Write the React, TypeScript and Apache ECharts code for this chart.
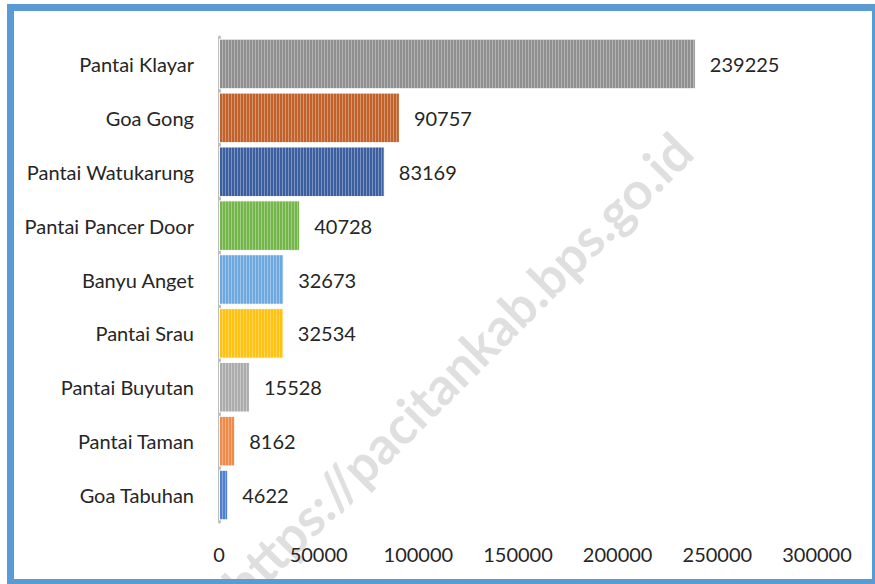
import React, { useEffect, useRef } from "react";
import * as echarts from "echarts";

const categories = [
  "Pantai Klayar",
  "Goa Gong",
  "Pantai Watukarung",
  "Pantai Pancer Door",
  "Banyu Anget",
  "Pantai Srau",
  "Pantai Buyutan",
  "Pantai Taman",
  "Goa Tabuhan",
];
const values = [239225, 90757, 83169, 40728, 32673, 32534, 15528, 8162, 4622];
const barColors = ["#8f8f8f", "#c0622a", "#3b5f9f", "#74b64a", "#6fa8de", "#ffc20e", "#acacac", "#ef8a48", "#4f7fd0"];
const xTicks = [0, 300000, 50000];
const watermark = "https://pacitankab.bps.go.id";

const FONT = "Lato, 'Noto Sans', sans-serif";

export default function App() {
  const ref = useRef<HTMLDivElement>(null);
  useEffect(() => {
    if (!ref.current) return;
    const chart = echarts.init(ref.current, undefined, { renderer: "svg" });
    const data = values.map((v, i) => ({
      value: v,
      itemStyle: {
        color: barColors[i],
        borderColor: "rgba(255,255,255,0.7)",
        borderWidth: 1,
        decal: {
          symbol: "rect",
          symbolSize: 1,
          dashArrayX: [1, 2],
          dashArrayY: [10, 0],
          color: "rgba(255,255,255,0.32)",
          rotation: 0,
        },
      },
    }));
    chart.setOption({
      animation: false,
      backgroundColor: "#ffffff",
      grid: { left: 219, right: 58, top: 37, bottom: 62, containLabel: false },
      xAxis: {
        type: "value",
        min: xTicks[0],
        max: xTicks[1],
        interval: xTicks[2],
        axisLine: { show: false },
        axisTick: { show: false },
        splitLine: { show: false },
        axisLabel: {
          color: "#262626",
          fontSize: 20,
          fontFamily: FONT,
          margin: 22,
          formatter: (v: number) => String(v),
        },
      },
      yAxis: {
        type: "category",
        inverse: true,
        data: categories,
        axisLine: { show: true, lineStyle: { color: "#bfbfbf", width: 3 } },
        axisTick: { show: false },
        axisLabel: { color: "#262626", fontSize: 20, fontFamily: FONT, margin: 25 },
      },
      graphic: [
        {
          type: "text",
          x: 457,
          y: 367,
          rotation: Math.PI / 4,
          z: -10,
          style: {
            text: watermark,
            font: "bold 52px " + FONT,
            fill: "rgba(185,185,185,0.45)",
            textAlign: "center",
            textVerticalAlign: "middle",
          },
        },
        {
          type: "rect",
          z: 100,
          shape: { x: 10.5, y: 7.5, width: 865, height: 575 },
          style: { fill: "none", stroke: "#5b9bd5", lineWidth: 7 },
        },
      ],
      series: [
        {
          type: "bar",
          data,
          barCategoryGap: "6%",
          label: {
            show: true,
            position: "right",
            distance: 14,
            color: "#262626",
            fontSize: 20,
            fontFamily: FONT,
          },
        },
      ],
    });
    return () => chart.dispose();
  }, []);
  return <div ref={ref} style={{ width: 875, height: 584, position: "absolute", left: 0, top: 0 }} />;
}
